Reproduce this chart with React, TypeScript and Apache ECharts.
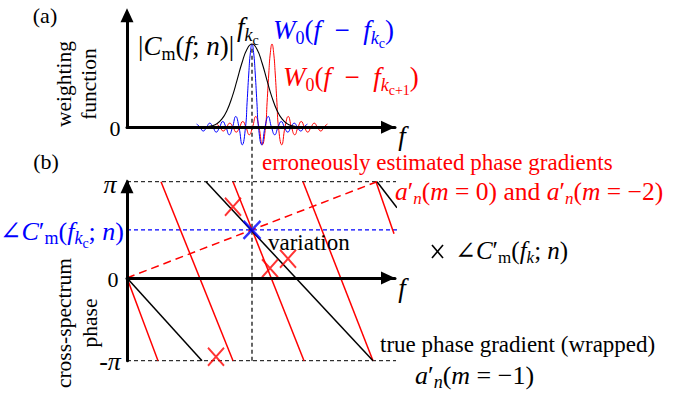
import React, { useEffect, useRef } from "react";
import * as echarts from "echarts";

const SERIF = '"Liberation Serif", "Times New Roman", "DejaVu Serif", serif';
const RED = "#ff0000";
const BLUE = "#0000ff";
const BLACK = "#000000";

// ---- shared frequency axis (both panels), arbitrary units ----
const F_MAX = 268;
const F_KC = 125; // f_{k_c}
const F_KC1 = 145; // f_{k_c+1}

// ---- panel (a): weighting functions ----
const WEIGHT_MAX = 1.345;
// |C_m(f;n)| envelope: offset from f_{k_c} and magnitude
const envelopeOffsets = [-45, -40, -35, -30, -25, -20, -15, -10, -5, 0, 5, 10, 15, 20, 25, 30, 35, 40, 45];
const envelopeValues = [0.006, 0.017, 0.044, 0.101, 0.203, 0.36, 0.563, 0.775, 0.938, 1, 0.938, 0.775, 0.563, 0.36, 0.203, 0.101, 0.044, 0.017, 0.006];
// W0 window, one side (mirrored for negative offsets)
const windowOffsets = [0, 1.6, 3.25, 4.9, 6.5, 9.75, 13, 16.25, 19.5, 22.75, 26, 29.25, 32.5, 35.75, 39, 42.25, 45.5, 48.75, 52, 55.25];
const windowValues = [1, 0.9, 0.64, 0.3, 0, -0.21, 0, 0.13, 0, -0.09, 0, 0.07, 0, -0.058, 0, 0.05, 0, -0.045, 0, 0.04];

// ---- panel (b): cross-spectrum phase (in units of pi, lower wrap edge at -pi) ----
const PHASE_TOP = 1; // pi
const PHASE_BOTTOM = -0.86; // -pi
const PHASE_AT_KC = 0.5;
const GUIDE_END = 270;
const KC_GUIDE_TOP = 2.41;
// true phase gradient a'_n(m=-1), wrapped
const trueGradient = [
  [[0, 0], [75, -0.86]],
  [[79, 1], [246, -0.86]],
  [[250, 1], [270, 0.73]],
];
// erroneous gradient a'_n(m=-2), wrapped
const aliasGradient = [
  [[0, 0], [31, -0.86]],
  [[34, 1], [106, -0.86]],
  [[106, 1], [177, -0.86]],
  [[176, 1], [246, -0.86]],
  [[249, 1], [267, 0.46]],
];
// erroneous gradient a'_n(m=0)
const zeroGradient = [[0, 0], [250, 1]];
// observed phases angle C'_m(f_k;n)
const observedF = [106, 143, 161, 89];
const observedPhase = [0.74, 0.1, 0.2, -0.82];

const X_SYMBOL = "path://M0 0L10 10M10 0L0 10";
const EN = "\u2002";

function mathRich(color: string, size: number) {
  const base = { fontFamily: SERIF, fontSize: size, fill: color, color };
  const sub = Math.round(size * 0.68);
  const subsub = Math.round(size * 0.52);
  return {
    i: { ...base, fontStyle: "italic" },
    r: { ...base },
    s: { ...base, fontSize: sub, fontStyle: "italic", padding: [Math.round(size * 0.55), 0, 0, 0] },
    sr: { ...base, fontSize: sub, padding: [Math.round(size * 0.55), 0, 0, 0] },
    ss: { ...base, fontSize: subsub, padding: [Math.round(size * 0.95), 0, 0, 0] },
  };
}

function label(
  x: number,
  y: number,
  text: string,
  color: string,
  size: number,
  align: string = "left",
  extra: Record<string, any> = {}
) {
  return {
    type: "text",
    x,
    y,
    z: 100,
    rotation: extra.rotation || 0,
    style: {
      text,
      fill: color,
      fontFamily: SERIF,
      fontSize: size,
      fontStyle: extra.fontStyle || "normal",
      align,
      textAlign: align,
      verticalAlign: "middle",
      textVerticalAlign: "middle",
      lineHeight: extra.lineHeight,
      rich: extra.rich,
    },
  };
}

function mathLabel(x: number, y: number, text: string, color: string, size: number, align = "left") {
  return label(x, y, text, color, size, align, { rich: mathRich(color, size) });
}

function lineSeries(points: number[][], color: string, width: number, type: any, axis: number, z = 3, smooth: any = false) {
  return {
    type: "line",
    xAxisIndex: axis,
    yAxisIndex: axis,
    data: points,
    symbol: "none",
    smooth,
    clip: false,
    silent: true,
    z,
    lineStyle: { color, width, type },
  };
}

function windowAt(center: number) {
  const pts: number[][] = [];
  for (let i = windowOffsets.length - 1; i >= 1; i--) pts.push([center - windowOffsets[i], windowValues[i]]);
  for (let i = 0; i < windowOffsets.length; i++) pts.push([center + windowOffsets[i], windowValues[i]]);
  return pts;
}

function axisPair(grid: number, yMin: number, yMax: number, yArrowOffset: number) {
  const line = { color: BLACK, width: 3 };
  const hidden = { axisTick: { show: false }, axisLabel: { show: false }, splitLine: { show: false } };
  return {
    x: {
      type: "value",
      gridIndex: grid,
      min: 0,
      max: F_MAX,
      z: 10,
      axisLine: { show: true, onZero: true, symbol: ["none", "triangle"], symbolSize: [13, 14], symbolOffset: [0, -7], lineStyle: line },
      ...hidden,
    },
    y: {
      type: "value",
      gridIndex: grid,
      min: yMin,
      max: yMax,
      z: 10,
      axisLine: { show: true, onZero: true, symbol: ["none", "triangle"], symbolSize: [13, 14], symbolOffset: [0, yArrowOffset], lineStyle: line },
      ...hidden,
    },
  };
}

export default function App() {
  const ref = useRef<HTMLDivElement>(null);

  useEffect(() => {
    if (!ref.current) return;
    const chart = echarts.init(ref.current, null, { renderer: "svg" });

    const a = axisPair(0, 0, WEIGHT_MAX, 0);
    const b = axisPair(1, PHASE_BOTTOM, PHASE_TOP, -4.6);

    const envelope = envelopeOffsets.map((o, i) => [F_KC + o, envelopeValues[i]]);

    const series: any[] = [
      // panel (a)
      lineSeries(windowAt(F_KC1), RED, 1, "solid", 0, 2, 0.5),
      lineSeries(windowAt(F_KC), BLUE, 1, "solid", 0, 2, 0.5),
      lineSeries(envelope, BLACK, 1.1, "solid", 0, 3, true),
      // panel (b) guides
      lineSeries([[0, PHASE_TOP], [GUIDE_END, PHASE_TOP]], BLACK, 1, [4, 3], 1),
      lineSeries([[0, PHASE_BOTTOM], [GUIDE_END, PHASE_BOTTOM]], BLACK, 1, [4, 3], 1),
      lineSeries([[F_KC, PHASE_BOTTOM], [F_KC, KC_GUIDE_TOP]], BLACK, 1.2, [4, 3], 1),
      lineSeries([[0, PHASE_AT_KC], [GUIDE_END, PHASE_AT_KC]], BLUE, 1.2, [4, 3], 1),
      lineSeries(zeroGradient, RED, 1.5, [8, 5], 1),
      ...aliasGradient.map((s) => lineSeries(s, RED, 1.5, "solid", 1)),
      ...trueGradient.map((s) => lineSeries(s, BLACK, 1.5, "solid", 1, 4)),
      {
        type: "scatter",
        xAxisIndex: 1,
        yAxisIndex: 1,
        clip: false,
        silent: true,
        z: 6,
        symbol: X_SYMBOL,
        symbolSize: [16, 18],
        itemStyle: { color: "rgba(0,0,0,0)", borderColor: RED, borderWidth: 2 },
        data: observedF.map((f, i) => [f, observedPhase[i]]),
      },
      {
        type: "scatter",
        xAxisIndex: 1,
        yAxisIndex: 1,
        clip: false,
        silent: true,
        z: 7,
        symbol: X_SYMBOL,
        symbolSize: [17, 18],
        itemStyle: { color: "rgba(0,0,0,0)", borderColor: BLUE, borderWidth: 2.5 },
        data: [[F_KC, PHASE_AT_KC]],
      },
    ];

    const graphic: any[] = [
      // panel (a)
      label(45, 15, "(a)", BLACK, 22, "center"),
      label(76.5, 84, "weighting\nfunction", BLACK, 21.5, "center", { rotation: Math.PI / 2, lineHeight: 25 }),
      label(115, 128, "0", BLACK, 22, "center"),
      label(402, 136, "f", BLACK, 27, "center", { fontStyle: "italic" }),
      mathLabel(237, 27, "{i|f}{s|k}{ss|c}", BLACK, 27),
      mathLabel(138, 46, "{r||}{i|C}{sr|m}{r|(}{i|f}{r|; }{i|n}{r|)}{r||}", BLACK, 27),
      mathLabel(273, 30, `{i|W}{sr|0}{r|(}{i|f}{r|${EN}−${EN}}{i|f}{s|k}{ss|c}{r|)}`, BLUE, 27),
      mathLabel(283, 77, `{i|W}{sr|0}{r|(}{i|f}{r|${EN}−${EN}}{i|f}{s|k}{ss|c+1}{r|)}`, RED, 27),
      // panel (b)
      label(46, 161, "(b)", BLACK, 22, "center"),
      label(110, 184, "π", BLACK, 26, "center", { fontStyle: "italic" }),
      mathLabel(124, 231, "{r|∠}{i|C}{r|′}{sr|m}{r|(}{i|f}{s|k}{ss|c}{r|; }{i|n}{r|)}", BLUE, 26, "right"),
      label(113, 279, "0", BLACK, 22, "center"),
      label(110, 361, "-π", BLACK, 26, "center", { fontStyle: "italic" }),
      label(77, 323, "cross-spectrum\nphase", BLACK, 21.5, "center", { rotation: Math.PI / 2, lineHeight: 26 }),
      label(402, 288, "f", BLACK, 27, "center", { fontStyle: "italic" }),
      label(262, 162, "erroneously estimated phase gradients", RED, 23, "left"),
      mathLabel(395, 191, "{i|a}{r|′}{s|n}{r|(}{i|m}{r| = 0) and }{i|a}{r|′}{s|n}{r|(}{i|m}{r| = −2)}", RED, 25.5),
      label(268, 242, "variation", BLACK, 23, "left"),
      label(380, 344, "true phase gradient (wrapped)", BLACK, 23, "left"),
      mathLabel(415, 375, "{i|a}{r|′}{s|n}{r|(}{i|m}{r| = −1)}", BLACK, 26),
      // legend key for the observed phase markers
      { type: "line", z: 100, shape: { x1: 432, y1: 245, x2: 443, y2: 258 }, style: { stroke: BLACK, lineWidth: 1.6 } },
      { type: "line", z: 100, shape: { x1: 443, y1: 245, x2: 432, y2: 258 }, style: { stroke: BLACK, lineWidth: 1.6 } },
      mathLabel(455, 250, "{r|∠}{i|C}{r|′}{sr|m}{r|(}{i|f}{s|k}{r|; }{i|n}{r|)}", BLACK, 25),
    ];

    chart.setOption({
      animation: false,
      backgroundColor: "#ffffff",
      grid: [
        { left: 127, top: 15.3, width: F_MAX, height: 112 },
        { left: 127, top: 181.7, width: F_MAX, height: 179 },
      ],
      xAxis: [a.x, b.x],
      yAxis: [a.y, b.y],
      series,
      graphic,
    });

    return () => chart.dispose();
  }, []);

  return <div ref={ref} style={{ position: "absolute", left: 0, top: 0, width: 674, height: 397 }} />;
}
